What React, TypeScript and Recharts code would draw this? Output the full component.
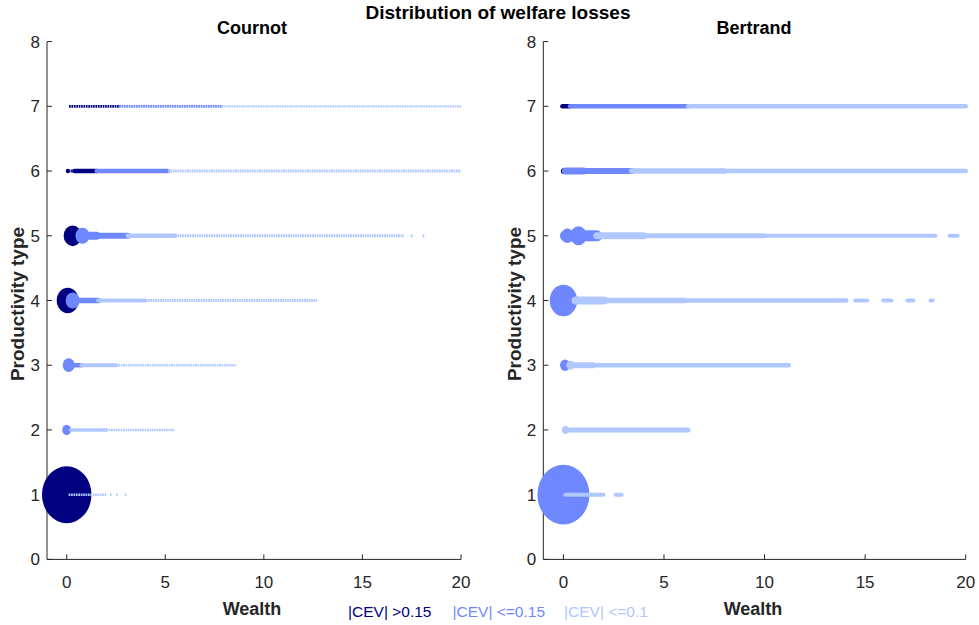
import { ScatterChart, Scatter, XAxis, YAxis, ZAxis } from "recharts";

const wealthTicks = [0, 5, 10, 15, 20];
const typeTicks = [0, 1, 2, 3, 4, 5, 6, 7, 8];
const cevClasses = ["|CEV| >0.15", "|CEV| <=0.15", "|CEV| <=0.1"];
const cevColors = ["#000080", "#7088ff", "#b0c8ff"];

type Blob = { type: number; wealth: number; mass: number; cev: number };
type Run = { type: number; from: number; to: number; density: number; cev: number };

// Cournot: big masses at the bottom of the wealth grid
const cournotBlobs: Blob[] = [
  { type: 1, wealth: 0, mass: 77, cev: 0 },
  { type: 2, wealth: 0, mass: 2.5, cev: 1 },
  { type: 3, wealth: 0.1, mass: 4.5, cev: 1 },
  { type: 4, wealth: 0.05, mass: 15.2, cev: 0 },
  { type: 4, wealth: 0.3, mass: 6.2, cev: 1 },
  { type: 5, wealth: 0.3, mass: 10.2, cev: 0 },
  { type: 5, wealth: 0.8, mass: 6.2, cev: 1 },
  { type: 6, wealth: 0.05, mass: 0.5, cev: 0 },
];

const cournotRuns: Run[] = [
  { type: 1, from: 0.1, to: 2.0, density: 2.5, cev: 2 },
  { type: 1, from: 2.2, to: 2.3, density: 2.2, cev: 2 },
  { type: 1, from: 2.5, to: 2.6, density: 2.2, cev: 2 },
  { type: 1, from: 2.95, to: 3.05, density: 2.2, cev: 2 },
  { type: 2, from: 0.2, to: 2.0, density: 3.5, cev: 2 },
  { type: 2, from: 2.0, to: 5.46, density: 2.6, cev: 2 },
  { type: 3, from: 0.1, to: 0.75, density: 4.5, cev: 1 },
  { type: 3, from: 0.75, to: 2.5, density: 4, cev: 2 },
  { type: 3, from: 2.5, to: 8.6, density: 2.6, cev: 2 },
  { type: 4, from: 0.3, to: 1.6, density: 5.5, cev: 1 },
  { type: 4, from: 1.6, to: 4.0, density: 4, cev: 2 },
  { type: 4, from: 4.0, to: 12.7, density: 3, cev: 2 },
  { type: 5, from: 0.8, to: 1.5, density: 8, cev: 1 },
  { type: 5, from: 1.5, to: 3.1, density: 6, cev: 1 },
  { type: 5, from: 3.1, to: 5.5, density: 4.5, cev: 2 },
  { type: 5, from: 5.5, to: 17.1, density: 3, cev: 2 },
  { type: 5, from: 17.45, to: 17.55, density: 3, cev: 2 },
  { type: 5, from: 18.05, to: 18.15, density: 3, cev: 2 },
  { type: 6, from: 0.1, to: 0.4, density: 3, cev: 0 },
  { type: 6, from: 0.4, to: 1.52, density: 4.5, cev: 0 },
  { type: 6, from: 1.52, to: 5.13, density: 4.5, cev: 1 },
  { type: 6, from: 5.13, to: 20, density: 3, cev: 2 },
  { type: 7, from: 0.12, to: 2.66, density: 2.6, cev: 0 },
  { type: 7, from: 2.66, to: 7.87, density: 2.6, cev: 1 },
  { type: 7, from: 7.87, to: 20, density: 2.4, cev: 2 },
];

// Bertrand: fewer large losses, denser grid
const bertrandBlobs: Blob[] = [
  { type: 1, wealth: 0, mass: 85, cev: 1 },
  { type: 2, wealth: 0.1, mass: 1.5, cev: 2 },
  { type: 3, wealth: 0.08, mass: 3.1, cev: 1 },
  { type: 3, wealth: 0.35, mass: 2.0, cev: 2 },
  { type: 4, wealth: 0, mass: 23.6, cev: 1 },
  { type: 5, wealth: 0.2, mass: 5, cev: 1 },
  { type: 5, wealth: 0.75, mass: 8.5, cev: 1 },
  { type: 6, wealth: 0, mass: 0.8, cev: 0 },
];

const bertrandRuns: Run[] = [
  { type: 1, from: 0.1, to: 2.0, density: 4, cev: 2 },
  { type: 1, from: 2.6, to: 2.9, density: 4, cev: 2 },
  { type: 2, from: 0.1, to: 6.2, density: 5, cev: 2 },
  { type: 3, from: 0.3, to: 1.5, density: 6, cev: 2 },
  { type: 3, from: 1.5, to: 11.2, density: 4.5, cev: 2 },
  { type: 4, from: 0.6, to: 2.0, density: 8, cev: 2 },
  { type: 4, from: 2.0, to: 6.0, density: 5.5, cev: 2 },
  { type: 4, from: 6.0, to: 14.06, density: 4.5, cev: 2 },
  { type: 4, from: 14.5, to: 15.1, density: 4, cev: 2 },
  { type: 4, from: 15.9, to: 16.3, density: 4, cev: 2 },
  { type: 4, from: 17.1, to: 17.4, density: 4, cev: 2 },
  { type: 4, from: 18.25, to: 18.35, density: 4, cev: 2 },
  { type: 5, from: 0.1, to: 1.66, density: 11, cev: 1 },
  { type: 5, from: 1.66, to: 4.0, density: 7, cev: 2 },
  { type: 5, from: 4.0, to: 10.0, density: 5, cev: 2 },
  { type: 5, from: 10.0, to: 18.5, density: 4, cev: 2 },
  { type: 5, from: 19.2, to: 19.6, density: 4, cev: 2 },
  { type: 6, from: 0.1, to: 1.0, density: 7, cev: 1 },
  { type: 6, from: 1.0, to: 3.4, density: 6, cev: 1 },
  { type: 6, from: 3.4, to: 8.0, density: 5.5, cev: 2 },
  { type: 6, from: 8.0, to: 20, density: 4.5, cev: 2 },
  { type: 7, from: -0.05, to: 0.33, density: 4.5, cev: 0 },
  { type: 7, from: 0.33, to: 6.2, density: 4.5, cev: 1 },
  { type: 7, from: 6.2, to: 20, density: 4.5, cev: 2 },
];

const FONT = '"Liberation Sans", Arial, Helvetica, sans-serif';
const AXIS = "#262626";

// matlab markers look a bit taller than wide in this export
const BlobShape = (props: any) => {
  const { cx, cy, size, width, fill } = props;
  const r = size != null ? Math.sqrt(size / Math.PI) : (width || 0) / 2;
  return <ellipse cx={cx} cy={cy} rx={r} ry={r * 1.15} fill={fill} />;
};

const NoMarker = () => <g />;

function Panel({
  blobs,
  runs,
  dotted,
  left,
  margin,
  yWidth,
}: {
  blobs: Blob[];
  runs: Run[];
  dotted: boolean;
  left: number;
  margin: { top: number; right: number; bottom: number; left: number };
  yWidth: number;
}) {
  const layers: JSX.Element[] = [];
  cevColors.forEach((color, cev) => {
    const pts = blobs
      .filter((b) => b.cev === cev)
      .map((b) => ({ x: b.wealth, y: b.type, z: b.mass }));
    if (pts.length) {
      layers.push(
        <Scatter
          key={`b${cev}`}
          data={pts}
          fill={color}
          shape={BlobShape}
          isAnimationActive={false}
          legendType="none"
        />
      );
    }
    runs
      .filter((r) => r.cev === cev)
      .forEach((r, i) => {
        const dots = dotted && r.density <= 3;
        layers.push(
          <Scatter
            key={`r${cev}-${i}`}
            data={[
              { x: r.from, y: r.type },
              { x: r.to, y: r.type },
            ]}
            fill={color}
            shape={NoMarker}
            line={{
              stroke: color,
              strokeWidth: r.density,
              strokeDasharray: dots ? "1.7 0.7" : undefined,
              strokeLinecap: dots ? "butt" : "round",
            }}
            isAnimationActive={false}
            legendType="none"
          />
        );
      });
  });

  return (
    <div style={{ position: "absolute", left, top: 0 }}>
      <ScatterChart width={490} height={625} margin={margin}>
        <XAxis
          type="number"
          dataKey="x"
          domain={[-1, 20]}
          ticks={wealthTicks}
          interval={0}
          height={65.6}
          tickSize={-5}
          tickMargin={22}
          stroke={AXIS}
          tick={{ fill: AXIS, fontSize: 17, fontFamily: FONT }}
        />
        <YAxis
          type="number"
          dataKey="y"
          domain={[0, 8]}
          ticks={typeTicks}
          interval={0}
          width={yWidth}
          tickSize={-5}
          tickMargin={12}
          stroke={AXIS}
          tick={{ fill: AXIS, fontSize: 17, fontFamily: FONT }}
        />
        <ZAxis type="number" dataKey="z" domain={[0, 100]} range={[0, 2500]} />
        {layers}
      </ScatterChart>
    </div>
  );
}

export default function App() {
  return (
    <div
      style={{
        position: "absolute",
        left: 0,
        top: 0,
        width: 979,
        height: 625,
        background: "#fff",
        fontFamily: FONT,
      }}
    >
      <Panel
        blobs={cournotBlobs}
        runs={cournotRuns}
        dotted
        left={0}
        margin={{ top: 41.6, right: 29, bottom: 0, left: 0 }}
        yWidth={47}
      />
      <Panel
        blobs={bertrandBlobs}
        runs={bertrandRuns}
        dotted={false}
        left={490}
        margin={{ top: 41.6, right: 14.3, bottom: 0, left: 0 }}
        yWidth={53.3}
      />
      <svg
        width={979}
        height={625}
        style={{ position: "absolute", left: 0, top: 0, pointerEvents: "none" }}
        fontFamily={FONT}
      >
        <text x={498} y={19} textAnchor="middle" fontSize={19} fontWeight="bold" fill="#000">
          Distribution of welfare losses
        </text>
        <text x={252} y={34} textAnchor="middle" fontSize={18} fontWeight="bold" fill="#000">
          Cournot
        </text>
        <text x={754} y={34} textAnchor="middle" fontSize={18} fontWeight="bold" fill="#000">
          Bertrand
        </text>
        <text x={252} y={615} textAnchor="middle" fontSize={18} fontWeight="bold" fill={AXIS}>
          Wealth
        </text>
        <text x={753} y={615} textAnchor="middle" fontSize={18} fontWeight="bold" fill={AXIS}>
          Wealth
        </text>
        <text
          transform="translate(24,304) rotate(-90)"
          textAnchor="middle"
          fontSize={19}
          fontWeight="bold"
          fill={AXIS}
        >
          Productivity type
        </text>
        <text
          transform="translate(521,304) rotate(-90)"
          textAnchor="middle"
          fontSize={19}
          fontWeight="bold"
          fill={AXIS}
        >
          Productivity type
        </text>
        <text x={348} y={617} fontSize={15.5} fill={cevColors[0]}>
          {cevClasses[0]}
        </text>
        <text x={452.5} y={617} fontSize={15.5} fill={cevColors[1]}>
          {cevClasses[1]}
        </text>
        <text x={564} y={617} fontSize={15.5} fill={cevColors[2]}>
          {cevClasses[2]}
        </text>
      </svg>
    </div>
  );
}
